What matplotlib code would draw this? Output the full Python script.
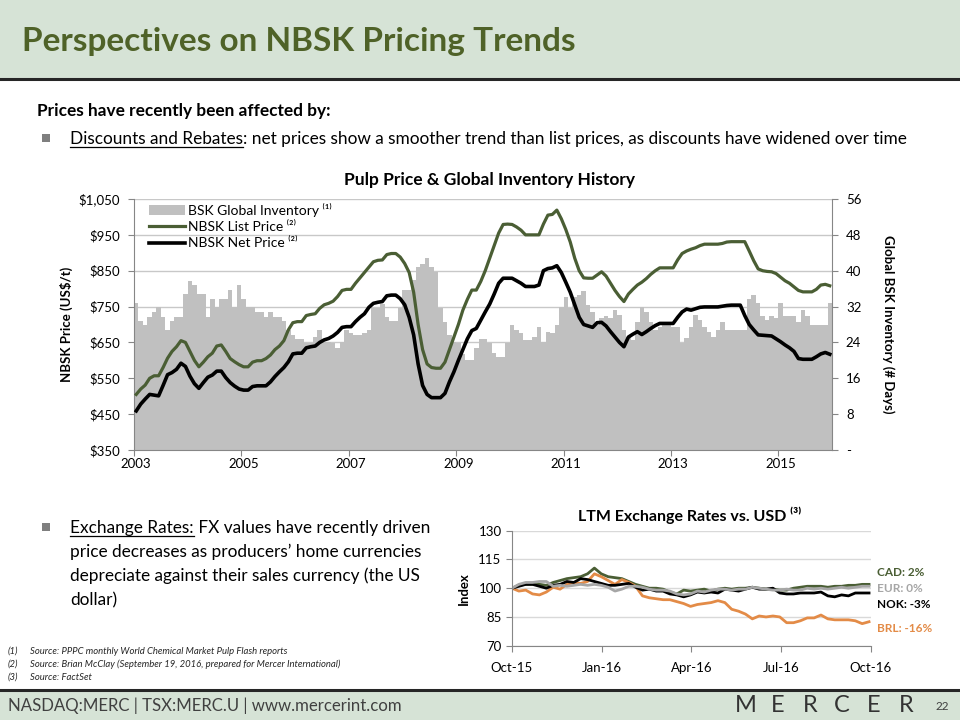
import numpy as np
import pandas as pd
import matplotlib
matplotlib.use('Agg')
import matplotlib.pyplot as plt
from matplotlib.patches import Rectangle, Patch
from matplotlib.lines import Line2D

plt.rcParams['font.family'] = ['Lato', 'DejaVu Sans']

# ---- data: monthly Jan 2003 - Dec 2015 ----
list_price = [505, 520, 531, 550, 557, 557, 580, 606, 625, 638, 655, 650,
              625, 600, 582, 595, 610, 620, 640, 643, 625, 605, 596, 588,
              582, 582, 595, 599, 599, 605, 615, 630, 640, 655, 685, 705,
              708, 708, 725, 728, 730, 745, 755, 759, 765, 778, 795, 798,
              798, 815, 830, 845, 860, 875, 879, 880, 895, 898, 898, 888,
              870, 845, 790, 700, 630, 590, 580, 578, 578, 595, 630, 665,
              700, 740, 770, 796, 796, 820, 850, 885, 920, 955, 979, 980,
              979, 972, 963, 950, 950, 950, 950, 980, 1005, 1007, 1019, 995,
              965, 930, 885, 850, 830, 829, 829, 838, 847, 835, 815, 795,
              778, 764, 785, 798, 810, 818, 828, 840, 850, 858, 858, 858,
              858, 880, 898, 905, 910, 914, 920, 924, 924, 924, 924, 926,
              930, 931, 931, 931, 931, 905, 878, 855, 850, 848, 847, 842,
              832, 822, 815, 805, 795, 791, 791, 791, 798, 810, 812, 808]

net_price = [459, 478, 492, 505, 503, 501, 530, 560, 566, 575, 592, 583,
             556, 535, 522, 538, 553, 559, 570, 570, 552, 538, 528, 520,
             517, 517, 527, 529, 529, 529, 540, 555, 568, 580, 596, 618,
             620, 620, 635, 638, 640, 650, 657, 661, 668, 678, 692, 694,
             694, 708, 720, 730, 748, 759, 762, 764, 780, 782, 782, 772,
             755, 720, 671, 590, 530, 505, 496, 496, 496, 508, 540, 568,
             600, 630, 660, 683, 689, 712, 735, 757, 785, 815, 829, 829,
             829, 822, 815, 806, 806, 806, 810, 850, 856, 858, 864, 845,
             818, 790, 755, 720, 700, 696, 692, 705, 706, 696, 680, 665,
             650, 638, 665, 673, 680, 672, 680, 689, 697, 703, 703, 703,
             703, 720, 735, 743, 740, 744, 748, 749, 749, 749, 749, 751,
             753, 754, 754, 754, 725, 700, 685, 671, 670, 669, 668, 660,
             652, 643, 635, 625, 605, 603, 603, 603, 610, 618, 622, 617]

inventory_days = [32.7, 28.8, 27.9, 29.7, 30.7, 31.8, 29.7, 26.8, 28.8, 29.7, 29.7, 34.8,
                  37.8, 36.8, 34.8, 34.8, 29.7, 33.8, 31.8, 33.8, 33.8, 35.8, 31.8, 36.8,
                  33.8, 31.8, 31.8, 30.7, 30.7, 29.7, 30.7, 29.7, 29.7, 28.8, 26.8, 25.7,
                  24.8, 24.8, 23.8, 23.8, 25.3, 26.8, 24.2, 24.2, 23.8, 22.7, 24.2, 26.8,
                  26.0, 25.7, 25.7, 26.0, 26.8, 31.6, 31.6, 32.5, 29.7, 28.8, 28.8, 31.6,
                  35.7, 35.7, 37.9, 40.9, 41.5, 42.9, 40.9, 39.8, 31.6, 28.6, 25.7, 24.2,
                  23.8, 21.5, 20.1, 20.1, 22.7, 24.7, 24.7, 23.8, 21.6, 20.8, 20.8, 23.8,
                  27.9, 26.8, 26.0, 24.5, 24.5, 25.3, 27.5, 24.2, 26.4, 26.0, 27.9, 31.9,
                  34.2, 31.6, 34.2, 34.6, 35.5, 32.3, 30.9, 27.9, 29.4, 29.8, 29.4, 31.2,
                  30.1, 26.8, 25.3, 24.5, 28.6, 31.8, 30.9, 28.6, 26.8, 27.5, 28.3, 28.3,
                  27.5, 27.5, 23.8, 24.9, 27.5, 30.1, 29.0, 27.5, 26.4, 25.3, 26.8, 28.6,
                  26.8, 26.8, 26.8, 26.8, 26.8, 33.8, 34.6, 32.7, 29.8, 29.0, 29.8, 29.4,
                  32.7, 29.8, 29.8, 29.8, 28.6, 31.2, 29.8, 27.9, 27.9, 27.9, 27.9, 32.7]

year_labels = ['2003', '2005', '2007', '2009', '2011', '2013', '2015']
price_ticks = [350, 450, 550, 650, 750, 850, 950, 1050]
price_labels = ['$350', '$450', '$550', '$650', '$750', '$850', '$950', '$1,050']
day_ticks = [0, 8, 16, 24, 32, 40, 48, 56]
day_labels = ['-', '8', '16', '24', '32', '40', '48', '56']

# ---- data: weekly FX index vs USD, Oct-15 = 100 ----
cad = [100, 101.5, 102, 102, 102, 101.5, 103, 104, 105, 105.5, 106, 107.5, 110.5,
       107.5, 106, 105.5, 105, 103.5, 102, 101, 100, 100, 99.5, 98, 97, 99,
       98.5, 99, 99.5, 98.5, 99.5, 100, 99.5, 100, 100, 100.5, 100, 99.5, 99.5,
       99, 99, 100, 100.5, 101, 101, 101, 100.5, 101, 101, 101.5, 101.5, 102, 102]
eur = [100, 102, 103, 103, 103.5, 103.5, 101, 101.5, 101, 101.5, 102, 101.5, 102,
       101.5, 100.5, 98.5, 99.5, 101, 101, 100.5, 99.5, 99, 99, 98.5, 97, 96.5,
       97, 98.5, 98, 99, 99.5, 99.5, 99, 99.5, 99.5, 100.5, 100, 99.5, 99,
       99, 99.5, 99, 99, 100, 99.5, 100, 99.5, 100, 100.5, 100, 100.5, 101, 101]
nok = [100, 101, 102, 102, 101, 100, 101.5, 102, 103.5, 103, 105, 104.5, 103.5,
       102.5, 101.5, 101.5, 102, 102.5, 100.5, 99, 99.5, 98.5, 98.5, 97, 96.5, 95.5,
       96.5, 98, 97.5, 98, 97.5, 99.5, 99, 98.5, 99.5, 100.5, 99.5, 99.5, 100,
       97.5, 97, 97, 97.5, 97.5, 97.5, 98, 96, 95.5, 96.5, 96, 97.5, 97.5, 97.5]
brl = [100, 98.5, 99, 97, 96.5, 98, 100.5, 99.5, 102, 103, 102.5, 103.5, 107.5,
       106, 104, 102, 104.5, 103, 101, 96, 95, 94.5, 94, 94, 93, 92,
       90.5, 91.5, 92, 92.5, 93.5, 92.5, 89, 88, 86.5, 84, 85.5, 85, 85.5,
       85, 82, 82, 83, 84.5, 84.5, 86, 84, 83.5, 83.5, 83.5, 83, 81.5, 82.5]
fx_dates = pd.date_range('2015-10-01', periods=len(cad), freq='7D')
fx_tick_dates = pd.to_datetime(['2015-10-01', '2016-01-01', '2016-04-01', '2016-07-01', '2016-10-01'])
fx_tick_labels = ['Oct-15', 'Jan-16', 'Apr-16', 'Jul-16', 'Oct-16']

W, H = 960, 720
GREEN = '#4F6228'
LIST_GREEN = '#4A5E34'
BAND = '#D6E3D6'
AXIS = '#868686'
GRID = '#C8C8C8'
BAR = '#C0C0C0'
TXT = '#000000'
BODY = 12.4

fig = plt.figure(figsize=(9.6, 7.2), dpi=100)


def fx(x):
    return x / W


def fy(y):
    return 1 - y / H


def put(x, y, s, **kw):
    return fig.text(fx(x), fy(y), s, **kw)


# header & footer bands
fig.patches.append(Rectangle((0, fy(78)), 1, 78 / H, transform=fig.transFigure,
                             facecolor=BAND, edgecolor='none', zorder=0))
fig.add_artist(Line2D([0, 1], [fy(79), fy(79)], color='#262626', lw=2.2))
fig.patches.append(Rectangle((0, 0), 1, 30 / H, transform=fig.transFigure,
                             facecolor=BAND, edgecolor='none', zorder=0))
fig.add_artist(Line2D([0, 1], [fy(690), fy(690)], color='#262626', lw=2.2))

put(22, 42, 'Perspectives on NBSK Pricing Trends', fontsize=24, fontweight='bold',
    color=GREEN, va='center', ha='left')

renderer = fig.canvas.get_renderer()


def run_text(x, y, parts, size=BODY):
    # parts: list of (text, underline)
    for s, ul in parts:
        t = put(x, y, s, fontsize=size, va='baseline', ha='left', color=TXT)
        bb = t.get_window_extent(renderer=renderer)
        if ul:
            fig.add_artist(Line2D([bb.x0 / fig.bbox.width, bb.x1 / fig.bbox.width],
                                  [fy(y + 3), fy(y + 3)], color=TXT, lw=0.9))
        x = bb.x1 * W / fig.bbox.width


def bullet(x, y):
    fig.patches.append(Rectangle((fx(x), fy(y + 4)), 8 / W, 8 / H, transform=fig.transFigure,
                                 facecolor='#7F7F7F', edgecolor='none'))


put(37, 116, 'Prices have recently been affected by:', fontsize=BODY, fontweight='bold',
    va='baseline', ha='left')
bullet(42, 138)
run_text(70, 144, [('Discounts and Rebates', True),
                   (': net prices show a smoother trend than list prices, as discounts have widened over time',
                    False)])

bullet(42, 527)
run_text(70, 533, [('Exchange Rates:', True),
                   (' FX values have recently driven', False)])
put(70, 557, 'price decreases as producers\u2019 home currencies', fontsize=BODY, va='baseline')
put(70, 581, 'depreciate against their sales currency (the US', fontsize=BODY, va='baseline')
put(70, 605, 'dollar)', fontsize=BODY, va='baseline')

# ---- main chart ----
put(490, 180, 'Pulp Price & Global Inventory History', fontsize=12.5, fontweight='bold',
    ha='center', va='center')

ax_bar = fig.add_axes([fx(134), fy(450), 698 / W, 251 / H])
ax_line = ax_bar.twinx()
x = np.arange(len(list_price))

# monthly inventory columns, touching each other
ax_bar.stairs(inventory_days, np.arange(-0.5, len(x)), fill=True, color=BAR, linewidth=0)
ax_bar.set_ylim(0, 56)
ax_bar.set_xlim(-0.5, len(x) - 0.5)
ax_bar.set_yticks(day_ticks)
ax_bar.set_yticklabels(day_labels)
ax_bar.yaxis.tick_right()
ax_bar.yaxis.set_label_position('right')
ax_bar.set_axisbelow(True)
ax_bar.yaxis.grid(True, color=GRID, lw=1.0)
ax_bar.set_xticks(np.arange(-0.5, len(x), 24))
ax_bar.set_xticklabels([])
ax_bar.set_xticks(np.arange(0, len(x), 24), minor=True)
ax_bar.set_xticklabels(year_labels, minor=True)
ax_bar.tick_params(axis='x', which='major', direction='out', length=4, color=AXIS)
ax_bar.tick_params(axis='x', which='minor', length=0, pad=6, labelsize=9.5)
ax_bar.tick_params(axis='y', direction='out', length=4, color=AXIS, labelsize=9.5, pad=6)
ax_bar.set_ylabel('Global BSK Inventory (# Days)', fontsize=9.5, fontweight='bold',
                  rotation=270, labelpad=24)
for side in ['left', 'right', 'bottom']:
    ax_bar.spines[side].set_color(AXIS)
ax_bar.spines['top'].set_visible(False)

ax_line.plot(x, list_price, color=LIST_GREEN, lw=2.3)
ax_line.plot(x, net_price, color='black', lw=2.6)
ax_line.set_ylim(350, 1050)
ax_line.set_yticks(price_ticks)
ax_line.set_yticklabels(price_labels)
ax_line.yaxis.tick_left()
ax_line.yaxis.set_label_position('left')
ax_line.tick_params(axis='y', direction='out', length=4, color=AXIS, labelsize=9.5, pad=6)
ax_line.set_ylabel('NBSK Price (US$/t)', fontsize=9.5, fontweight='bold', labelpad=4)
for s in ax_line.spines.values():
    s.set_visible(False)

handles = [Patch(facecolor=BAR, edgecolor='none'),
           Line2D([], [], color=LIST_GREEN, lw=2.3),
           Line2D([], [], color='black', lw=2.6)]
labels = ['BSK Global Inventory \u207d\u00b9\u207e', 'NBSK List Price \u207d\u00b2\u207e',
          'NBSK Net Price \u207d\u00b2\u207e']
ax_line.legend(handles, labels, loc='upper left', bbox_to_anchor=(fx(149), fy(203)),
               bbox_transform=fig.transFigure, frameon=False, fontsize=10,
               handlelength=2.6, handletextpad=0.2, labelspacing=0.3,
               borderaxespad=0, borderpad=0)

# ---- FX chart ----
put(690, 515, 'LTM Exchange Rates vs. USD \u207d\u00b3\u207e', fontsize=11.5, fontweight='bold',
    ha='center', va='center')
ax_fx = fig.add_axes([fx(512), fy(645.7), 359 / W, 115 / H])
ax_fx.plot(fx_dates, cad, color=LIST_GREEN, lw=2.0)
ax_fx.plot(fx_dates, brl, color='#E38B47', lw=2.0)
ax_fx.plot(fx_dates, nok, color='black', lw=2.0)
ax_fx.plot(fx_dates, eur, color='#A6A6A6', lw=2.0)
ax_fx.set_ylim(70, 130)
ax_fx.set_yticks([70, 85, 100, 115, 130])
ax_fx.set_xlim(fx_tick_dates[0], fx_tick_dates[-1])
ax_fx.set_xticks(fx_tick_dates)
ax_fx.set_xticklabels(fx_tick_labels)
ax_fx.yaxis.grid(True, color='#D9D9D9', lw=1.0)
ax_fx.set_axisbelow(True)
ax_fx.tick_params(direction='out', length=4, color=AXIS, labelsize=9.5)
ax_fx.tick_params(axis='x', pad=8)
ax_fx.set_ylabel('Index', fontsize=9.5, fontweight='bold', labelpad=6)
for side in ['left', 'bottom']:
    ax_fx.spines[side].set_color(AXIS)
for side in ['top', 'right']:
    ax_fx.spines[side].set_visible(False)

put(877, 572, 'CAD: 2%', color=LIST_GREEN, fontsize=8.5, fontweight='bold', va='center')
put(877, 588, 'EUR: 0%', color='#A6A6A6', fontsize=8.5, fontweight='bold', va='center')
put(877, 604, 'NOK: -3%', color='black', fontsize=8.5, fontweight='bold', va='center')
put(877, 628, 'BRL: -16%', color='#E38B47', fontsize=8.5, fontweight='bold', va='center')

# ---- footnotes & footer ----
notes = ['Source: PPPC monthly World Chemical Market Pulp Flash reports',
         'Source: Brian McClay (September 19, 2016, prepared for Mercer International)',
         'Source: FactSet']
for i, n in enumerate(notes):
    put(8, 651 + 13 * i, '(%d)' % (i + 1), fontsize=6.8, style='italic', color='#262626', va='center')
    put(30, 651 + 13 * i, n, fontsize=6.8, style='italic', color='#262626', va='center')

put(8, 706, 'NASDAQ:MERC | TSX:MERC.U | www.mercerint.com', fontsize=12.1, color='#404040',
    va='center')
for i, ch in enumerate('MERCER'):
    put(746 + 32 * i, 706, ch, fontsize=17, color='#333333', ha='center', va='center')
put(942, 706, '22', fontsize=8.5, color='#404040', ha='center', va='center')

fig.savefig('out.png', dpi=100)
